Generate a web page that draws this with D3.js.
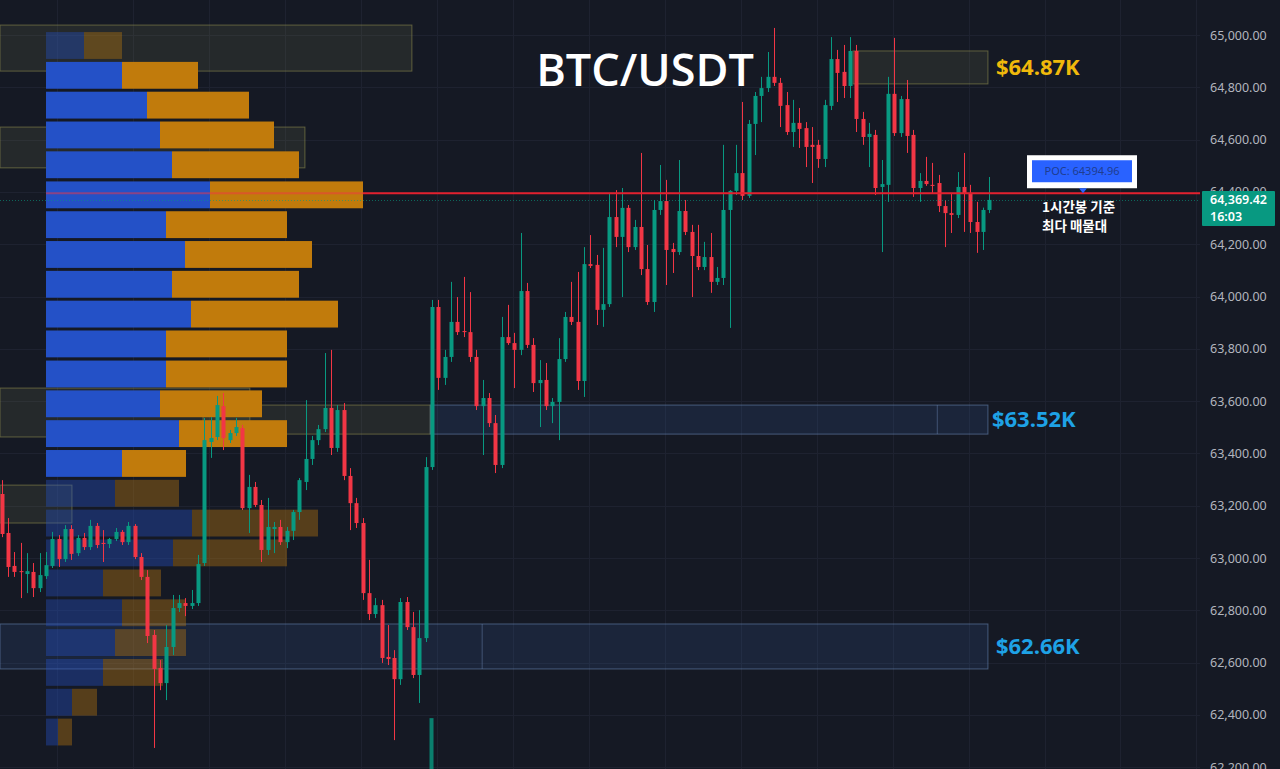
<!DOCTYPE html>
<html><head><meta charset="utf-8">
<script src="https://cdn.jsdelivr.net/npm/d3@7/dist/d3.min.js"></script>
<style>
html,body{margin:0;padding:0;background:#151924;overflow:hidden}
svg{display:block}
</style></head>
<body><svg id="chart" width="1280" height="769"></svg>
<script>
// ---------------- DATA ----------------
const candleOpen = [
63245,63096,62970,62950,62939,62947,62885,62931,62970,63073,
62996,63111,63019,63077,63042,63123,63058,63054,63073,63100,
63061,63123,63004,62928,62706,62580,62522,62660,62809,62828,
62817,62828,62981,63444,63463,63581,63451,63478,63497,63191,
63272,63203,63031,63111,63119,63061,63104,63176,63291,63379,
63451,63493,63574,63421,63566,63314,63210,63134,62866,62786,
62820,62622,62618,62537,62832,62736,62553,62694,63348,63960,
63689,63769,63903,63868,63864,63769,63581,63612,63516,63356,
63845,63822,63796,64021,63815,63669,63681,63581,63597,63761,
63922,63903,63677,64124,64121,63949,63971,64304,64228,64339,
64189,64266,64105,63979,64331,64365,64182,64170,64327,64247,
64155,64113,64151,64056,64071,64331,64404,64472,64385,64660,
64767,64797,64840,64817,64732,64629,64664,64644,64580,64580,
64526,64729,64908,64859,64805,64939,64679,64610,64618,64419,
64427,64775,64625,64755,64618,64415,64442,64427,64434,64346,
64319,64312,64419,64396,64285,64247,64331];
const candleHigh = [
63298,63153,63023,63058,63019,62981,63019,63023,63100,63088,
63126,63126,63088,63096,63146,63134,63107,63077,63115,63107,
63138,63130,63019,62954,62725,62610,62744,62859,62859,62847,
62878,63012,63536,63539,63620,63631,63490,63536,63509,63318,
63291,63222,63230,63138,63146,63119,63184,63306,63604,63467,
63509,63784,63796,63585,63593,63344,63230,63153,62993,62847,
62840,62744,62648,62847,62851,62794,62801,63386,63987,63987,
63796,64056,63998,64075,64017,63796,63681,63631,63547,63922,
63968,63861,64243,64052,63841,63757,63746,63612,63841,63941,
64056,64094,64189,64235,64159,64186,64396,64407,64415,64350,
64293,64549,64197,64369,64503,64446,64205,64522,64369,64274,
64274,64209,64243,64113,64580,64407,64580,64744,64675,64782,
64840,64935,65027,64836,64782,64752,64721,64667,64648,64599,
64752,64992,64943,64962,64992,64962,64706,64664,64637,64522,
64840,64989,64767,64828,64637,64472,64534,64511,64465,64369,
64396,64476,64549,64427,64362,64340,64457];
const candleLow = [
63080,62928,62928,62847,62866,62851,62870,62920,62962,62966,
62985,62993,63008,63031,63031,63038,62985,63038,63065,63050,
63050,62996,62916,62675,62274,62495,62457,62629,62794,62778,
62805,62817,62970,63383,63451,63413,63440,63467,63184,63096,
63195,62985,63012,63019,63050,63038,63069,63146,63260,63356,
63432,63482,63394,63406,63298,63107,63115,62840,62763,62771,
62599,62591,62304,62515,62725,62541,62446,62679,63337,63643,
63662,63750,63853,63845,63750,63566,63394,63501,63325,63344,
63815,63650,63776,63803,63635,63501,63566,63516,63451,63750,
63891,63643,63616,64109,63891,63884,63960,64189,63998,64170,
64178,64082,63968,63941,64312,64044,64090,64159,64235,63998,
64101,64101,64014,64044,64044,63880,64388,64369,64377,64541,
64667,64782,64805,64648,64618,64572,64568,64495,64434,64492,
64495,64713,64744,64759,64759,64629,64580,64495,64388,64170,
64362,64614,64610,64549,64381,64362,64423,64396,64323,64189,
64243,64300,64247,64243,64167,64178,64319];
const candleClose = [
63092,62966,62947,62947,62950,62885,62935,62973,63073,62996,
63111,63016,63077,63042,63123,63050,63054,63073,63100,63061,
63123,63004,62928,62702,62576,62522,62660,62809,62828,62817,
62828,62977,63451,63459,63585,63459,63478,63501,63191,63272,
63203,63031,63119,63119,63061,63104,63176,63298,63379,63451,
63493,63574,63421,63566,63314,63210,63134,62866,62786,62820,
62618,62614,62537,62832,62736,62553,62694,63348,63960,63689,
63769,63903,63864,63864,63769,63581,63612,63516,63356,63845,
63822,63796,64021,63815,63669,63681,63581,63597,63761,63922,
63903,63677,64124,64117,63949,63971,64304,64228,64339,64189,
64266,64105,63979,64331,64365,64178,64170,64327,64247,64155,
64113,64151,64056,64071,64331,64404,64472,64385,64660,64767,
64797,64840,64817,64729,64629,64664,64641,64572,64572,64526,
64732,64908,64855,64805,64939,64679,64610,64622,64415,64430,
64775,64625,64755,64614,64415,64442,64430,64423,64346,64319,
64312,64419,64392,64285,64247,64331,64369.42];

// volume profile rows (top price of each row, top to bottom) and up/down volume
const profileRowTop = [65015,64901,64787,64673,64559,64444,64330,64216,64102,63988,63874,63759,63645,63531,63417,63303,63189,63075,62960,62846,62732,62618,62504,62390];
const profileRowStep = 114.15;
const profileUp   = [38,76,101,114,126,164,120,139,126,145,120,120,114,133,76,69,146,127,57,76,69,57,26,12];
const profileDown = [38,76,102,114,127,153,121,127,127,147,121,121,102,108,64,64,126,114,58,64,71,60,25,14];
const valueAreaRows = [1,14]; // first and last row index inside value area
const pocPrice = 64394.96;
const lastPrice = 64369.42;
const lastTimeLeft = "16:03";

// price axis ticks
const priceTicks = [62200,62400,62600,62800,63000,63200,63400,63600,63800,64000,64200,64400,64600,64800,65000];

// zones: candle-index span + price span
const oliveZones = [
  {i0:-1, i1:64.8, top:65038, bot:64862},
  {i0:-1, i1:47.9, top:64648, bot:64492},
  {i0:-1, i1:39.2, top:63650, bot:63463},
  {i0:31.8, i1:67.7, top:63585, bot:63474},
  {i0:-1, i1:11.1, top:63279, bot:63134},
  {i0:134.5, i1:155.8, top:64939, bot:64813}
];
const blueZones = [
  {i0:67.7, i1:155.8, split:147.8, top:63585, bot:63474},
  {i0:-1, i1:155.8, split:75.9, top:62748, bot:62576}
];
const zoneLabels = [
  {text:"$64.87K", price:64876, color:"#f0b90b", dx:8},
  {text:"$63.52K", price:63530, color:"#1ea2e6", dx:4},
  {text:"$62.66K", price:62662, color:"#1ea2e6", dx:8}
];
const strayBar = {i:67.9, top:62388, bot:62190};

// ---------------- SCALES ----------------
const W = 1280, H = 769;
const svg = d3.select("#chart");
const y = d3.scaleLinear().domain([62200, 65000]).range([767.3, 35]);
const x = d3.scaleLinear().domain([0, 156]).range([1.7, 989.2]);
const up = "#089981", down = "#f23645";

svg.append("rect").attr("width", W).attr("height", H).attr("fill", "#151924");

// grid
const grid = svg.append("g");
grid.selectAll("line.h").data(priceTicks).join("line")
  .attr("x1", 0).attr("x2", 1200).attr("y1", d => Math.round(y(d)) + 0.5).attr("y2", d => Math.round(y(d)) + 0.5)
  .attr("stroke", "#1e2230").attr("stroke-width", 1);
grid.selectAll("line.v").data(d3.range(8.74, 190, 12)).join("line")
  .attr("x1", d => Math.round(x(d)) + 0.5).attr("x2", d => Math.round(x(d)) + 0.5)
  .attr("y1", 0).attr("y2", H)
  .attr("stroke", "#1e2230").attr("stroke-width", 1);

// zones (under profile and candles)
const zg = svg.append("g");
oliveZones.forEach(z => {
  zg.append("rect")
    .attr("x", Math.max(0, x(z.i0))).attr("y", y(z.top))
    .attr("width", x(z.i1) - Math.max(0, x(z.i0))).attr("height", y(z.bot) - y(z.top))
    .attr("fill", "rgba(125,128,80,0.16)").attr("stroke", "rgba(150,145,80,0.55)").attr("stroke-width", 1);
});
blueZones.forEach(z => {
  zg.append("rect")
    .attr("x", Math.max(0, x(z.i0))).attr("y", y(z.top))
    .attr("width", x(z.i1) - Math.max(0, x(z.i0))).attr("height", y(z.bot) - y(z.top))
    .attr("fill", "rgba(60,100,170,0.17)").attr("stroke", "rgba(110,140,185,0.55)").attr("stroke-width", 1);
  zg.append("line")
    .attr("x1", x(z.split)).attr("x2", x(z.split)).attr("y1", y(z.top)).attr("y2", y(z.bot))
    .attr("stroke", "rgba(110,140,185,0.45)");
});

// volume profile
const pvMax = d3.max(profileUp.map((u, k) => u + profileDown[k]));
const pv = d3.scaleLinear().domain([0, pvMax]).range([0, 317]);
const pvLeft = 46;
const pg = svg.append("g");
profileRowTop.forEach((top, k) => {
  const y0 = y(top) + 1, y1 = y(top - profileRowStep) - 2;
  const inVA = k >= valueAreaRows[0] && k <= valueAreaRows[1];
  const op = inVA ? 1 : 0.38;
  pg.append("rect").attr("x", pvLeft).attr("y", y0).attr("width", pv(profileUp[k])).attr("height", y1 - y0)
    .attr("fill", "#2451c7").attr("opacity", op);
  pg.append("rect").attr("x", pvLeft + pv(profileUp[k])).attr("y", y0).attr("width", pv(profileDown[k])).attr("height", y1 - y0)
    .attr("fill", "#c17b0c").attr("opacity", op);
});
// POC line within the profile row
const pocRowEnd = pvLeft + pv(profileUp[5] + profileDown[5]);
pg.append("line").attr("x1", pvLeft).attr("x2", pocRowEnd).attr("y1", y(pocPrice)).attr("y2", y(pocPrice))
  .attr("stroke", "#f23645").attr("stroke-width", 2).attr("opacity", 0.5);

// stray bar segment
svg.append("rect").attr("x", x(strayBar.i) - 2).attr("y", y(strayBar.top)).attr("width", 4)
  .attr("height", y(strayBar.bot) - y(strayBar.top)).attr("fill", up).attr("opacity", 0.8);

// candles
const cg = svg.append("g");
const idx = d3.range(candleOpen.length);
cg.selectAll("line.wick").data(idx).join("line")
  .attr("x1", i => Math.round(x(i)) + 0.5).attr("x2", i => Math.round(x(i)) + 0.5)
  .attr("y1", i => y(candleHigh[i])).attr("y2", i => y(candleLow[i]))
  .attr("stroke", i => candleClose[i] >= candleOpen[i] ? up : down).attr("stroke-width", 1);
cg.selectAll("rect.body").data(idx).join("rect")
  .attr("x", i => Math.round(x(i)) - 1.5).attr("width", 4)
  .attr("y", i => y(Math.max(candleOpen[i], candleClose[i])))
  .attr("height", i => Math.max(1, Math.abs(y(candleOpen[i]) - y(candleClose[i]))))
  .attr("fill", i => candleClose[i] >= candleOpen[i] ? up : down);

// current price dotted line
svg.append("line").attr("x1", 0).attr("x2", 1200).attr("y1", Math.round(y(lastPrice)) + 0.5).attr("y2", Math.round(y(lastPrice)) + 0.5)
  .attr("stroke", "#089981").attr("stroke-width", 1).attr("stroke-dasharray", "1,2").attr("opacity", 0.6);

// POC extended line
svg.append("line").attr("x1", pocRowEnd).attr("x2", 1200).attr("y1", y(pocPrice)).attr("y2", y(pocPrice))
  .attr("stroke", "#e3202e").attr("stroke-width", 2);

// title
svg.append("text").attr("x", 645).attr("y", 86).attr("text-anchor", "middle")
  .attr("font-family", "'Open Sans', 'Noto Sans', sans-serif").attr("font-weight", 600).attr("font-size", 45)
  .attr("fill", "#ffffff").text("BTC/USDT");

// zone labels
zoneLabels.forEach(l => {
  svg.append("text").attr("x", x(155.8) + l.dx).attr("y", y(l.price)).attr("dy", "0.35em")
    .attr("font-family", "'Open Sans', 'Noto Sans', sans-serif").attr("font-weight", 700).attr("font-size", 22)
    .attr("fill", l.color).text(l.text);
});

// POC label box
const pocY = y(pocPrice);
const pl = svg.append("g");
pl.append("rect").attr("x", 1027).attr("y", pocY - 38).attr("width", 110).attr("height", 33).attr("fill", "#ffffff");
pl.append("rect").attr("x", 1032).attr("y", pocY - 33).attr("width", 100).attr("height", 22).attr("fill", "#2962ff");
pl.append("path").attr("d", `M${1079},${pocY - 5} L${1087},${pocY - 5} L${1083},${pocY} Z`).attr("fill", "#2962ff");
pl.append("text").attr("x", 1082).attr("y", pocY - 22).attr("dy", "0.35em").attr("text-anchor", "middle")
  .attr("font-family", "'Noto Sans', sans-serif").attr("font-size", 11).attr("fill", "#1f3d8f")
  .text("POC: " + pocPrice.toFixed(2));
pl.append("text").attr("x", 1042).attr("y", pocY + 19)
  .attr("font-family", "'Noto Sans CJK KR', sans-serif").attr("font-weight", 700).attr("font-size", 13.5)
  .attr("fill", "#ffffff").text("1시간봉 기준");
pl.append("text").attr("x", 1042).attr("y", pocY + 38)
  .attr("font-family", "'Noto Sans CJK KR', sans-serif").attr("font-weight", 700).attr("font-size", 13.5)
  .attr("fill", "#ffffff").text("최다 매물대");

// price axis
const axis = d3.axisRight(y).tickValues(priceTicks).tickFormat(d3.format(",.2f")).tickSize(0).tickPadding(0);
const ag = svg.append("g").attr("transform", "translate(1210,0)").call(axis);
ag.select(".domain").remove();
ag.selectAll("text").attr("fill", "#b2b5be").attr("font-family", "'Noto Sans', sans-serif").attr("font-size", 12.5);

// last price tag
const ty = y(lastPrice);
svg.append("rect").attr("x", 1202).attr("y", ty - 9).attr("width", 73).attr("height", 35).attr("fill", "#089981").attr("rx", 1);
svg.append("text").attr("x", 1210).attr("y", ty).attr("dy", "0.35em")
  .attr("font-family", "'Noto Sans', sans-serif").attr("font-weight", 600).attr("font-size", 12.5).attr("fill", "#ffffff")
  .text(d3.format(",.2f")(lastPrice));
svg.append("text").attr("x", 1210).attr("y", ty + 17).attr("dy", "0.35em")
  .attr("font-family", "'Noto Sans', sans-serif").attr("font-weight", 600).attr("font-size", 12.5).attr("fill", "#ffffff")
  .text(lastTimeLeft);
</script></body></html>
